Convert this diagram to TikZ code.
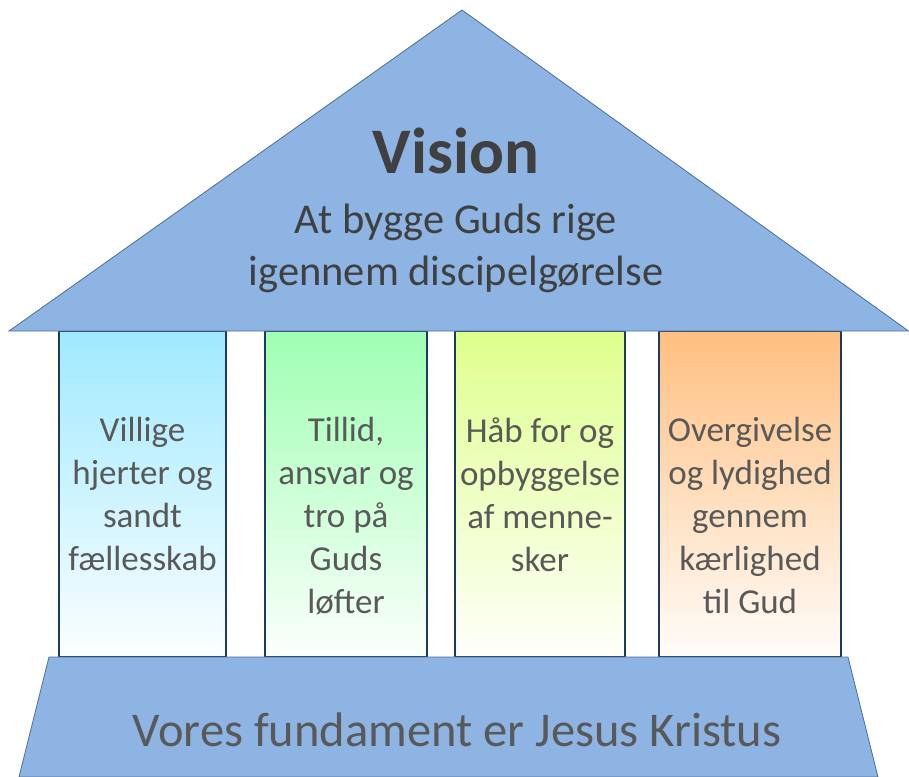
\documentclass[tikz,border=0pt]{standalone}
\usepackage{fontspec}
\setmainfont{Carlito}
\usepackage{xcolor}
\usetikzlibrary{positioning}

\definecolor{roofblue}{HTML}{8EB4E3}
\definecolor{roofline}{HTML}{4A6E9C}
\definecolor{pillarline}{HTML}{1F3A60}
\definecolor{txtdark}{HTML}{404040}
\definecolor{txtgray}{HTML}{595959}
\definecolor{pcyan}{HTML}{A0E9FF}
\definecolor{pgreen}{HTML}{9EFFB2}
\definecolor{plime}{HTML}{DEFF8C}
\definecolor{porange}{HTML}{FFBF80}

\tikzset{
  pillar/.style={draw=pillarline, line width=1.5pt, rectangle, minimum height=326pt, inner sep=0pt, top color=#1, bottom color=#1!4!white},
  pillartext/.style={text=txtgray, font=\fontsize{35}{43}\selectfont, align=center, anchor=north, inner sep=0pt},
  slab/.style={draw=roofline, line width=0.8pt, fill=roofblue},
}

\begin{document}
\begin{tikzpicture}[x=1pt, y=-1pt]
            \useasboundingbox (0,0) rectangle (909,776);

            % Pillars
            \node [pillar=pcyan, minimum width=167pt] (pil1) at (142.5,494) {};
            \node [pillar=pgreen, minimum width=162pt] (pil2) at (346,494) {};
            \node [pillar=plime, minimum width=170pt] (pil3) at (540,494) {};
            \node [pillar=porange, minimum width=182pt] (pil4) at (750,494) {};

            % Roof and foundation
            \draw [slab] (9,331) -- (462,10) -- (908.5,331) -- cycle;
            \draw [slab] (49,657) -- (848,657) -- (878,777) -- (19,777) -- cycle;

            % Texts
            \node [text=txtdark, font=\fontsize{65}{65}\selectfont\bfseries, anchor=base] (vision) at (456,173) {Vision};
            \node [text=txtdark, font=\fontsize{42.5}{52}\selectfont, align=center] (visiontext) at (456,248) {At bygge Guds rige\\igennem discipelgørelse};
            \node [pillartext] (txt1) at (142.5,417) {Villige\\hjerter og\\sandt\\fællesskab};
            \node [pillartext] (txt2) at (346,417) {Tillid,\\ansvar og\\tro på\\Guds\\løfter};
            \node [pillartext] (txt3) at (540,417) {Håb for og\\opbyggelse\\af menne-\\sker};
            \node [pillartext] (txt4) at (750,417) {Overgivelse\\og lydighed\\gennem\\kærlighed\\til Gud};
            \node [text=txtgray, font=\fontsize{48.5}{48.5}\selectfont, anchor=base] (basetext) at (457,746) {Vores fundament er Jesus Kristus};

        \end{tikzpicture}
\end{document}
